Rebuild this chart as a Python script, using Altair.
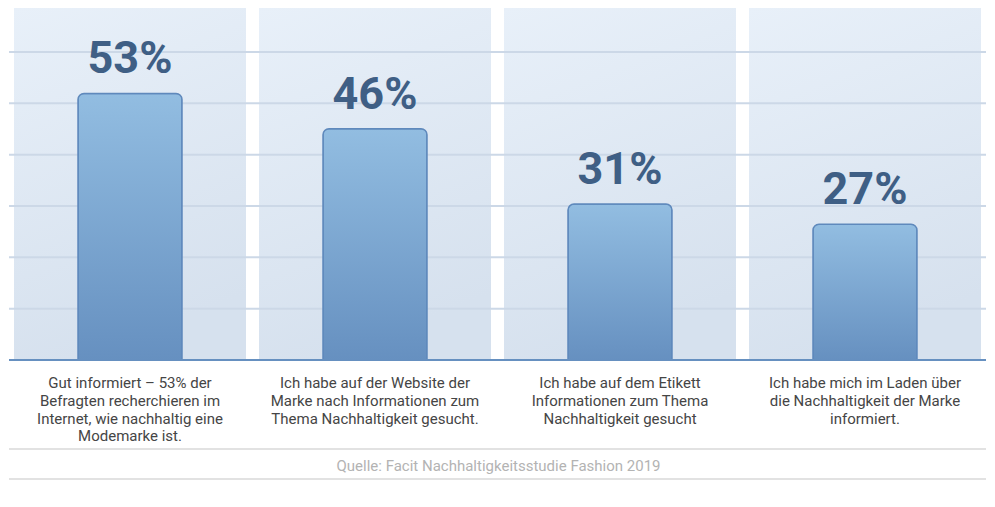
import altair as alt
import pandas as pd

# ---- data ----
categories = ["c1", "c2", "c3", "c4"]
values = [53, 46, 31, 27]
value_labels = ["53%", "46%", "31%", "27%"]
descriptions = [
    "Gut informiert – 53% der\nBefragten recherchieren im\nInternet, wie nachhaltig eine\nModemarke ist.",
    "Ich habe auf der Website der\nMarke nach Informationen zum\nThema Nachhaltigkeit gesucht.",
    "Ich habe auf dem Etikett\nInformationen zum Thema\nNachhaltigkeit gesucht",
    "Ich habe mich im Laden über\ndie Nachhaltigkeit der Marke\ninformiert.",
]
grid_levels = [1, 2, 3, 4, 5, 6]
source_text = ["Quelle: Facit Nachhaltigkeitsstudie Fashion 2019"]

# ---- layout / style ----
W = 977
H = 352
Y_MAX = 70
GRID_MAX = H / 51.33
FULL = W

df = pd.DataFrame({"cat": categories, "value": values,
                   "label": value_labels, "desc": descriptions})
grid_df = pd.DataFrame({"g": grid_levels})
src_df = pd.DataFrame({"t": source_text})

yscale = alt.Scale(domain=[0, Y_MAX])
xenc = alt.X("cat:N", sort=None, axis=None,
             scale=alt.Scale(paddingInner=0.053, paddingOuter=0.0204))

panel_grad = alt.Gradient(
    gradient="linear", x1=0, y1=0, x2=0.25, y2=1,
    stops=[alt.GradientStop(color="#e8f0f9", offset=0),
           alt.GradientStop(color="#d6e1ee", offset=1)])
bar_grad = alt.Gradient(
    gradient="linear", x1=0, y1=0, x2=0, y2=1,
    stops=[alt.GradientStop(color="#92bde1", offset=0),
           alt.GradientStop(color="#6690c0", offset=1)])

panels = alt.Chart(df).mark_bar(fill=panel_grad, stroke=None).encode(
    x=xenc,
    y=alt.YDatum(0, scale=yscale, axis=None),
    y2=alt.Y2Datum(Y_MAX),
)

grid = alt.Chart(grid_df).mark_rule(color="#ccd8e7", strokeWidth=2).encode(
    y=alt.Y("g:Q", scale=alt.Scale(domain=[0, GRID_MAX]), axis=None),
    x=alt.value(0), x2=alt.value(FULL),
)

bars = alt.Chart(df).mark_bar(
    size=104, fill=bar_grad, stroke="#5f89bc", strokeWidth=1.5,
    cornerRadiusTopLeft=6, cornerRadiusTopRight=6,
).encode(
    x=xenc,
    y=alt.Y("value:Q", scale=yscale, axis=None),
)

baseline = alt.Chart(src_df).mark_rule(color="#6690c0", strokeWidth=2).encode(
    y=alt.YDatum(0, scale=yscale, axis=None),
    x=alt.value(0), x2=alt.value(FULL),
)

value_text = alt.Chart(df).mark_text(
    font="Roboto", fontSize=45, fontWeight="bold", color="#3f5f85",
    baseline="alphabetic", dy=-20,
).encode(
    x=xenc,
    y=alt.Y("value:Q", scale=yscale, axis=None),
    text="label:N",
)

desc_text = alt.Chart(df).mark_text(
    font="Roboto", fontSize=15, color="#454545", baseline="alphabetic",
    lineBreak="\n", lineHeight=17.8, dy=28,
).encode(
    x=xenc,
    y=alt.YDatum(0, scale=yscale, axis=None),
    text="desc:N",
)

sep1 = alt.Chart(src_df).mark_rule(color="#d9d9d9", strokeWidth=1.5, yOffset=89).encode(
    y=alt.YDatum(0, scale=yscale, axis=None),
    x=alt.value(0), x2=alt.value(FULL),
)
sep2 = alt.Chart(src_df).mark_rule(color="#d9d9d9", strokeWidth=1.5, yOffset=119).encode(
    y=alt.YDatum(0, scale=yscale, axis=None),
    x=alt.value(0), x2=alt.value(FULL),
)

src = alt.Chart(src_df).mark_text(
    font="Roboto", fontSize=15, color="#b3b3b3", baseline="alphabetic", dy=111,
).encode(
    x=alt.value(W / 2 + 1),
    y=alt.YDatum(0, scale=yscale, axis=None),
    text="t:N",
)

chart = alt.layer(
    panels, grid, bars, baseline, value_text, desc_text, sep1, sep2, src
).resolve_scale(y="independent").properties(
    width=W, height=H, padding=0, background="white"
).configure_view(stroke=None)

chart.save("out.html", embed_options={"renderer": "svg", "actions": False})
